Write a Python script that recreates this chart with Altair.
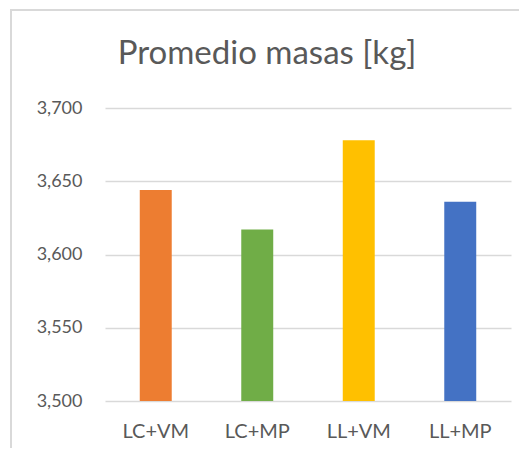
import altair as alt
import pandas as pd

categories = ["LC+VM", "LC+MP", "LL+VM", "LL+MP"]
values = [3644, 3617, 3678, 3636]
colors = ["#ED7D31", "#70AD47", "#FFC000", "#4472C4"]
y_ticks = [3500, 3550, 3600, 3650, 3700]

df = pd.DataFrame({"cat": categories, "val": values})

FONT = "Lato"
GREY = "#595959"
GRID = "#d9d9d9"

bars = alt.Chart(df).mark_bar().encode(
    x=alt.X(
        "cat:N",
        sort=categories,
        title=None,
        scale=alt.Scale(paddingInner=0.685, paddingOuter=0.3425),
        axis=alt.Axis(
            labelAngle=0, ticks=False, domain=False, labelPadding=20,
            labelFontSize=20, labelFont=FONT, labelColor=GREY,
        ),
    ),
    y=alt.Y(
        "val:Q",
        title=None,
        scale=alt.Scale(domain=[3500, 3700], zero=False, nice=False),
        axis=alt.Axis(
            values=y_ticks, format=",.0f", ticks=False, domain=False,
            labelPadding=23, labelFontSize=18, labelFont=FONT, labelColor=GREY,
            gridColor=GRID, gridWidth=1.3,
        ),
    ),
    y2=alt.datum(3500),
    color=alt.Color("cat:N", scale=alt.Scale(domain=categories, range=colors), legend=None),
)

frame_left = alt.Chart(df).mark_rule(color=GRID, strokeWidth=1.5).encode(
    x=alt.value(-94), y=alt.value(-99), y2=alt.value(349)
)
frame_top = alt.Chart(df).mark_rule(color=GRID, strokeWidth=1.5).encode(
    x=alt.value(-94), x2=alt.value(416), y=alt.value(-98)
)

chart = alt.layer(frame_left, frame_top, bars).properties(
    width=406,
    height=293,
    title=alt.TitleParams(
        "Promedio masas [kg]", fontSize=33, font=FONT, color=GREY,
        fontWeight="normal", anchor="middle", baseline="alphabetic",
        offset=-89, dx=-41,
    ),
    autosize=alt.AutoSizeParams(type="none"),
    padding={"left": 97, "top": 100, "right": 8, "bottom": 47},
).configure_view(stroke=None)

chart.save("out.html", embed_options={"renderer": "svg", "actions": False})
